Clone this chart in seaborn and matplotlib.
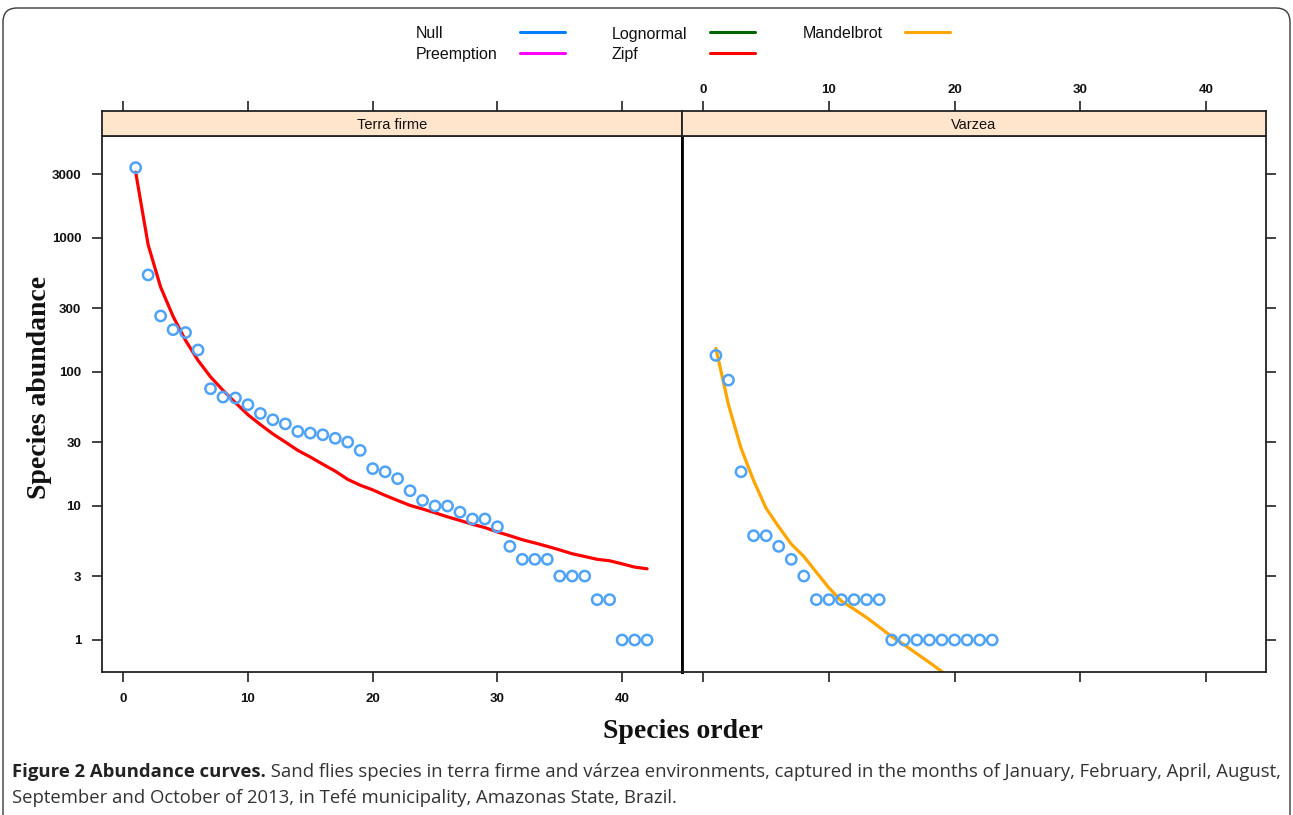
import numpy as np
import pandas as pd
import matplotlib
matplotlib.use("Agg")
import matplotlib.pyplot as plt
import seaborn as sns
from matplotlib.lines import Line2D
from matplotlib.patches import FancyBboxPatch
from matplotlib.ticker import NullLocator, FixedLocator
from matplotlib.transforms import IdentityTransform

# ---------------- data ----------------
panels = ["Terra firme", "Varzea"]

terra_rank = list(range(1, 43))
terra_obs = [3350, 530, 262, 207, 197, 146, 75, 65, 64, 57, 49, 44, 41, 36, 35,
             34, 32, 30, 26, 19, 18, 16, 13, 11, 10, 10, 9, 8, 8, 7, 5, 4, 4, 4,
             3, 3, 3, 2, 2, 1, 1, 1]
terra_zipf = [3100, 890, 430, 260, 172, 122, 92, 73, 59, 48, 40.5, 34.5, 30, 26,
              23.2, 20.5, 18.2, 15.8, 14.3, 13.2, 12.0, 11.0, 10.1, 9.5, 8.9, 8.3,
              7.8, 7.3, 6.9, 6.4, 6.0, 5.6, 5.3, 5.0, 4.7, 4.4, 4.2, 4.0, 3.9, 3.7,
              3.5, 3.4]

varzea_rank = list(range(1, 24))
varzea_obs = [133, 87, 18, 6, 6, 5, 4, 3, 2, 2, 2, 2, 2, 2, 1, 1, 1, 1, 1, 1, 1, 1, 1]
mandel_rank = list(range(1, 21))
varzea_mandelbrot = [150, 57, 27, 15.5, 9.6, 7.0, 5.2, 4.2, 3.2, 2.45, 1.95, 1.7,
                     1.47, 1.25, 1.06, 0.92, 0.79, 0.68, 0.58, 0.50]

legend_labels = ["Null", "Preemption", "Lognormal", "Zipf", "Mandelbrot"]
legend_colors = ["#0080FF", "#FF00FF", "#006400", "#FF0000", "#FFA500"]

x_ticks = [0, 10, 20, 30, 40]
y_ticks = [1, 3, 10, 30, 100, 300, 1000, 3000]
y_tick_labels = ["1", "3", "10", "30", "100", "300", "1000", "3000"]

caption_bold = "Figure 2 Abundance curves."
caption_rest = (" Sand flies species in terra firme and várzea environments, captured in "
                "the months of January, February, April, August,")
caption_line2 = "September and October of 2013, in Tefé municipality, Amazonas State, Brazil."

# ---------------- layout ----------------
sns.set_theme(style="white")
plt.rcParams["font.family"] = ["Liberation Sans", "DejaVu Sans"]

W, H = 1293, 815
fig = plt.figure(figsize=(W / 100, H / 100), dpi=100)
fig.patch.set_facecolor("white")


def fx(x):
    return x / W


def fy(y):
    return 1 - y / H


XLIM = (-1.7, 44.8)
YLIM = (0.577, 5770)
panel_top, panel_bot, strip_top = 136, 672, 111
boxes = [(102, 682), (682, 1266)]
point_color = "#4FA3F7"
tick_font = dict(family="Liberation Sans", weight="bold", size=9.5)

axes = []
strips = []
for i, (x0, x1) in enumerate(boxes):
    ax = fig.add_axes([fx(x0), fy(panel_bot), (x1 - x0) / W, (panel_bot - panel_top) / H])
    sax = fig.add_axes([fx(x0), fy(panel_top), (x1 - x0) / W, (panel_top - strip_top) / H])
    axes.append(ax)
    strips.append(sax)
    ax.set_yscale("log")
    ax.set_xlim(*XLIM)
    ax.set_ylim(*YLIM)
    sax.set_xlim(*XLIM)
    sax.set_facecolor("#FFE5CC")
    sax.set_yticks([])
    sax.text(0.5, 0.45, panels[i], transform=sax.transAxes, ha="center", va="center",
             fontsize=10.5, color="#111111")
    for a in (ax, sax):
        for s in a.spines.values():
            s.set_color("#222222")
            s.set_linewidth(1.3)
        a.set_xlabel("")
        a.set_ylabel("")

# data
sns.scatterplot(x=terra_rank, y=terra_obs, ax=axes[0], marker="o", s=55,
                facecolors="none", edgecolor=point_color, linewidth=1.8, zorder=3)
sns.lineplot(x=terra_rank, y=terra_zipf, ax=axes[0], color="#FF0000", linewidth=2.3,
             zorder=2)
sns.scatterplot(x=varzea_rank, y=varzea_obs, ax=axes[1], marker="o", s=55,
                facecolors="none", edgecolor=point_color, linewidth=1.8, zorder=3)
sns.lineplot(x=mandel_rank, y=varzea_mandelbrot, ax=axes[1], color="#FFA500",
             linewidth=2.3, zorder=2)

for ax in axes:
    ax.set_xlim(*XLIM)
    ax.set_ylim(*YLIM)
    ax.set_xlabel("")
    ax.set_ylabel("")
    ax.yaxis.set_minor_locator(NullLocator())
    ax.xaxis.set_major_locator(FixedLocator(x_ticks))
    ax.yaxis.set_major_locator(FixedLocator(y_ticks))

# left panel ticks
axl, axr = axes
axl.tick_params(axis="x", which="major", bottom=True, top=False, labelbottom=True,
                direction="out", length=7, width=1.2, color="#222222", pad=8)
axl.tick_params(axis="y", which="major", left=True, right=False, labelleft=True,
                direction="out", length=7, width=1.2, color="#222222", pad=8)
axl.set_xticklabels([str(t) for t in x_ticks])
axl.set_yticklabels(y_tick_labels)
for lab in axl.get_xticklabels() + axl.get_yticklabels():
    lab.set_fontproperties(matplotlib.font_manager.FontProperties(**tick_font))
    lab.set_color("#111111")

# right panel ticks
axr.tick_params(axis="x", which="major", bottom=True, top=False, labelbottom=False,
                direction="out", length=7, width=1.2, color="#222222")
axr.tick_params(axis="y", which="major", left=False, right=True, labelleft=False,
                labelright=False, direction="out", length=7, width=1.2, color="#222222")

# strips: top ticks
for i, sax in enumerate(strips):
    sax.xaxis.set_major_locator(FixedLocator(x_ticks))
    sax.xaxis.tick_top()
    sax.tick_params(axis="x", which="major", top=True, bottom=False, labeltop=(i == 1),
                    labelbottom=False, direction="out", length=7, width=1.2,
                    color="#222222", pad=4)
    sax.set_xticklabels([str(t) for t in x_ticks])
    for lab in sax.get_xticklabels():
        lab.set_fontproperties(matplotlib.font_manager.FontProperties(**tick_font))
        lab.set_color("#111111")

# divider between panels
axl.spines["right"].set_linewidth(2.0)
axl.spines["right"].set_color("#000000")
axr.spines["left"].set_linewidth(2.0)
axr.spines["left"].set_color("#000000")

# axis titles
fig.text(fx(683), fy(731), "Species order", ha="center", va="center",
         family="Liberation Serif", weight="bold", size=20, color="#111111")
fig.text(fx(40), fy(387), "Species abundance", ha="center", va="center", rotation=90,
         family="Liberation Serif", weight="bold", size=20, color="#111111")

# legend (text first, then line)
leg_pos = [(416, 34, 520), (416, 55, 520), (612, 34, 710), (612, 55, 710), (803, 34, 905)]
for lab, col, (tx, ty, lx) in zip(legend_labels, legend_colors, leg_pos):
    fig.text(fx(tx), fy(ty), lab, ha="left", va="center", size=11.5,
             family="Liberation Sans", color="#111111")
    fig.add_artist(Line2D([fx(lx), fx(lx + 45)], [fy(ty - 2), fy(ty - 2)],
                          transform=fig.transFigure, color=col, linewidth=2.2))

# outer rounded border
border = FancyBboxPatch((3, -30), 1287, H - 8 + 30,
                        boxstyle="round,pad=0,rounding_size=14",
                        transform=IdentityTransform(), fill=False,
                        edgecolor="#3a3a3a", linewidth=1.0)
fig.add_artist(border)

# caption
cap_font = "Open Sans"
cap_size = 13.3
t1 = fig.text(fx(12), fy(772), caption_bold, ha="left", va="center", size=cap_size,
              family=cap_font, weight="bold", color="#222222")
fig.canvas.draw()
r = fig.canvas.get_renderer()
bb = t1.get_window_extent(renderer=r)
fig.text(bb.x1 / W, fy(772), caption_rest, ha="left", va="center", size=cap_size,
         family=cap_font, color="#333333")
fig.text(fx(12), fy(798), caption_line2, ha="left", va="center", size=cap_size,
         family=cap_font, color="#333333")

fig.savefig("out.png", dpi=100, facecolor="white")
